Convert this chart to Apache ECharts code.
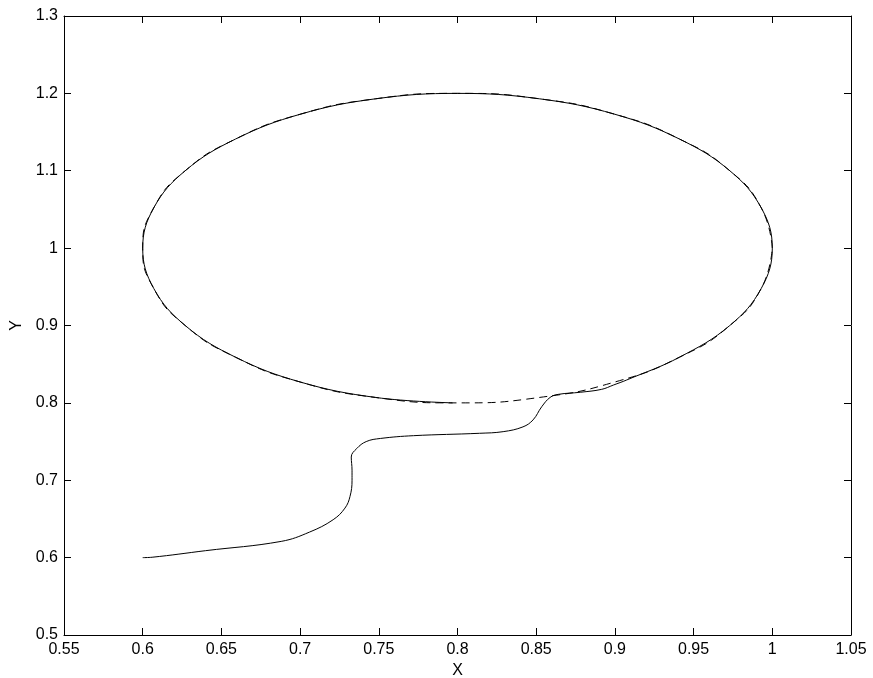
<!DOCTYPE html>
<html>
<head>
<meta charset="utf-8">
<script src="https://cdn.jsdelivr.net/npm/echarts@6/dist/echarts.min.js"></script>
<style>html,body{margin:0;padding:0;background:#fff}#c{width:873px;height:678px}</style>
</head>
<body>
<div id="c"></div>
<script>
// Reference circle (dashed)
const referenceCircle = [
  [1.0,1.0],[0.993,1.052],[0.973,1.1],[0.941,1.141],[0.9,1.173],[0.852,1.193],
  [0.8,1.2],[0.748,1.193],[0.7,1.173],[0.659,1.141],[0.627,1.1],[0.607,1.052],
  [0.6,1.0],[0.607,0.948],[0.627,0.9],[0.659,0.859],[0.7,0.827],[0.748,0.807],
  [0.8,0.8],[0.852,0.807],[0.9,0.827],[0.941,0.859],[0.973,0.9],[0.993,0.948],[1.0,1.0]
];
// Trajectory (solid)
const trajectory = [
  [0.600,0.600],[0.606,0.6005],[0.640,0.609],[0.688,0.621],[0.706,0.633],[0.721,0.649],
  [0.7285,0.664],[0.7317,0.679],[0.733,0.700],[0.733,0.713],[0.7325,0.730],[0.736,0.741],
  [0.742,0.750],[0.751,0.754],[0.772,0.7576],[0.814,0.7607],[0.829,0.7628],[0.8416,0.769],
  [0.848,0.778],[0.8535,0.795],[0.8588,0.807],[0.864,0.811],[0.878,0.8137],[0.8916,0.8175],
  [0.899,0.823],[0.9075,0.8296],[0.941,0.859],[0.973,0.9],[0.993,0.948],[1.0,1.0],
  [0.993,1.052],[0.973,1.1],[0.941,1.141],[0.9,1.173],[0.852,1.193],[0.8,1.2],
  [0.748,1.193],[0.7,1.173],[0.659,1.141],[0.627,1.1],[0.607,1.052],[0.6,1.0],
  [0.607,0.948],[0.627,0.9],[0.659,0.859],[0.7,0.827],[0.748,0.807],[0.797,0.8]
];
const xTicks = {min:0.55, max:1.05, interval:0.05};
const yTicks = {min:0.5, max:1.3, interval:0.1};

const font = 'Liberation Sans, Arial, Helvetica, sans-serif';
const axisCommon = {
  axisLine:{show:true, onZero:false, lineStyle:{color:'#000', width:1}},
  axisTick:{show:true, inside:true, length:7, lineStyle:{color:'#000', width:1}},
  splitLine:{show:false}
};
const labelStyle = {color:'#000', fontSize:16, fontFamily:font};
const chart = echarts.init(document.getElementById('c'));
chart.setOption({
  animation:false,
  backgroundColor:'#fff',
  grid:{left:64, right:22, top:16, bottom:43, containLabel:false, outerBoundsMode:'none'},
  xAxis:[
    Object.assign({type:'value', position:'bottom', min:xTicks.min, max:xTicks.max, interval:xTicks.interval,
      name:'X', nameLocation:'middle', nameGap:27, nameTextStyle:labelStyle,
      axisLabel:Object.assign({margin:7, formatter:v=>String(+v.toFixed(2))}, labelStyle)}, axisCommon),
    Object.assign({type:'value', position:'top', min:xTicks.min, max:xTicks.max, interval:xTicks.interval,
      axisLabel:{show:false}}, axisCommon)
  ],
  yAxis:[
    Object.assign({type:'value', position:'left', min:yTicks.min, max:yTicks.max, interval:yTicks.interval,
      name:'Y', nameLocation:'middle', nameGap:37, nameTextStyle:labelStyle,
      axisLabel:Object.assign({margin:6, formatter:v=>String(+v.toFixed(2))}, labelStyle)}, axisCommon),
    Object.assign({type:'value', position:'right', min:yTicks.min, max:yTicks.max, interval:yTicks.interval,
      axisLabel:{show:false}}, axisCommon)
  ],
  series:[
    {type:'line', data:referenceCircle, smooth:true, symbol:'none',
      lineStyle:{color:'#000', width:1, type:[8,5]}},
    {type:'line', data:trajectory, smooth:0.4, symbol:'none',
      lineStyle:{color:'#000', width:1}}
  ]
});
</script>
</body>
</html>
